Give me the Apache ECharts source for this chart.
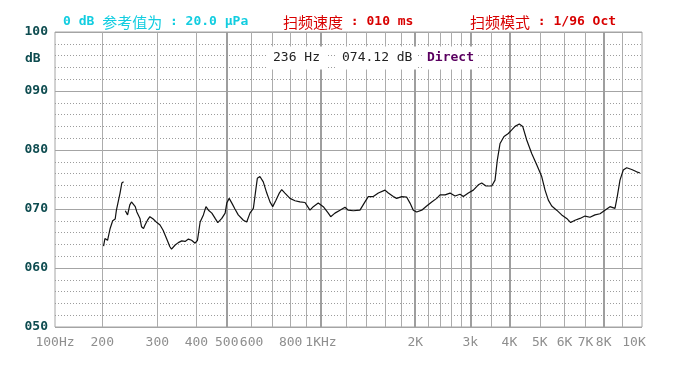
<!DOCTYPE html>
<html>
<head>
<meta charset="utf-8">
<script src="https://cdn.jsdelivr.net/npm/echarts@6/dist/echarts.min.js"></script>
<style>html,body{margin:0;padding:0;background:#fff}#c{width:694px;height:370px}</style>
</head>
<body>
<div id="c"></div>
<script>
// ---- data ----
const xMin = 141.3, xMax = 10607;
const freqHz = [202,204,208,212,216,220,222,225,228,231,234,235.5,
  237,241,245,248,251,255,258,264,267,271,274,279,284,291,299,306,313,321,329,333,342,350,359,368,377,386,396,403,411,421,429,437,448,459,468,482,494,500,509,519,531,544,565,579,593,608,615,626,638,654,671,687,701,718,736,749,767,796,826,857,889,922,945,980,1017,1055,1074,1108,1150,1193,1222,1268,1332,1382,1416,1469,1525,1601,1641,1702,1745,1811,1879,1925,1972,2022,2098,2176,2258,2343,2401,2491,2584,2681,2781,2849,2956,3067,3182,3262,3367,3512,3598,3659,3733,3844,3967,4068,4168,4301,4410,4542,4712,4889,5072,5198,5325,5460,5662,5875,6095,6278,6479,6722,6974,7234,7505,7787,8077,8380,8695,8842,9021,9242,9477,9834,10200,10452];
const levelDb = [63.7,65.0,64.7,66.7,68.0,68.3,69.8,70.0,72.7,74.4,74.6,null,
  69.7,69.0,70.7,71.2,71.4,70.4,69.5,68.4,67.0,66.7,67.3,68.1,68.7,68.3,67.7,67.3,66.4,65.0,63.6,63.2,63.9,64.3,64.6,64.5,64.9,64.7,64.2,64.7,67.8,69.0,70.4,69.8,69.3,68.4,67.7,68.4,69.3,71.0,71.8,71.0,70.0,69.0,68.1,67.8,69.3,70.1,72.1,75.2,75.5,74.6,72.7,71.2,70.4,71.5,72.7,73.3,72.7,71.8,71.4,71.2,71.1,69.8,70.4,71.0,70.4,69.3,68.7,69.3,69.8,70.3,69.8,69.7,69.8,71.2,72.1,72.1,72.7,73.2,72.7,72.1,71.8,72.1,72.0,71.0,69.8,69.5,69.8,70.5,71.2,71.8,72.4,72.4,72.7,72.2,72.5,72.1,72.7,73.2,74.1,74.4,73.9,73.9,74.9,78.3,81.1,82.3,82.8,83.4,84.0,84.4,84.0,81.7,79.4,77.5,75.5,73.2,71.5,70.5,69.8,69.0,68.4,67.7,68.1,68.4,68.8,68.6,69.0,69.2,69.8,70.4,70.1,72.1,74.9,76.6,77.0,76.7,76.3,76.1];
const thinGridHz = [200,300,400,600,700,800,900,1200,1400,1600,1800,2200,2400,2600,2800,3500,5000,6000,7000,9200];
const thickGridHz = [500,1000,2000,3000,4000,8000];
const xTickValues = [xMin,200,300,400,500,600,800,1000,2000,3000,4000,5000,6000,7000,8000,10000];
const xTickLabels = ['100Hz','200','300','400','500','600','800','1KHz','2K','3k','4K','5K','6K','7K','8K','10K'];
const yMin = 50, yMax = 100, yStep = 10;
const cursorHz = '236 Hz', cursorDb = '074.12 dB', cursorMode = 'Direct';

// ---- chart ----
const chart = echarts.init(document.getElementById('c'), null, {renderer: 'canvas'});
const mono = 'DejaVu Sans Mono';
const cjk = 'Noto Sans CJK SC';
const labelMap = {};
xTickValues.forEach((v, i) => { labelMap[Math.round(v)] = xTickLabels[i]; });

const option = {
  animation: false,
  backgroundColor: '#fff',
  grid: {left: 55, right: 52, top: 32, bottom: 43, show: true, borderColor: '#a4a4a4', borderWidth: 1, backgroundColor: 'transparent'},
  xAxis: {
    type: 'log', min: xMin, max: xMax, logBase: 10,
    axisLine: {show: false}, axisTick: {show: false}, splitLine: {show: false},
    axisLabel: {
      customValues: xTickValues,
      formatter: v => labelMap[Math.round(v)] || '',
      color: '#8e8e8e', fontFamily: mono, fontSize: 13, margin: 9,
      showMinLabel: true, showMaxLabel: true
    }
  },
  yAxis: {
    type: 'value', min: yMin, max: yMax, interval: yStep,
    axisLine: {show: false}, axisTick: {show: false},
    axisLabel: {
      formatter: v => String(v).padStart(3, '0'),
      color: '#0e4c50', fontFamily: mono, fontWeight: 'bold', fontSize: 13, margin: 7
    },
    splitLine: {show: true, lineStyle: {color: '#a4a4a4', width: 1, type: 'solid'}},
    minorTick: {show: false, splitNumber: 5},
    minorSplitLine: {show: true, lineStyle: {color: '#9c9c9c', width: 1, type: [1, 2]}}
  },
  series: [
    {
      type: 'line', data: [], z: 1, silent: true,
      markLine: {
        silent: true, symbol: ['none', 'none'], label: {show: false},
        lineStyle: {color: '#acacac', width: 1, type: 'solid'},
        emphasis: {disabled: true},
        data: thinGridHz.map(v => ({xAxis: v}))
          .concat(thickGridHz.map(v => ({xAxis: v, lineStyle: {color: '#9e9e9e', width: 2, type: 'solid'}})))
      }
    },
    {
      type: 'line', z: 5, silent: true,
      data: freqHz.map((f, i) => [f, levelDb[i]]),
      showSymbol: false, connectNulls: false,
      lineStyle: {color: '#111', width: 1.2}
    }
  ],
  graphic: [
    {type: 'text', z: 100, style: {x: 63, y: 22, verticalAlign: 'middle',
      text: '{a|0 dB }{c|参考值为}{a| : 20.0 μPa}',
      rich: {a: {fontFamily: mono, fontWeight: 'bold', fontSize: 13, fill: '#12cde0'},
             c: {fontFamily: cjk, fontSize: 15, fill: '#12cde0'}}}},
    {type: 'text', z: 100, style: {x: 283, y: 22, verticalAlign: 'middle',
      text: '{c|扫频速度}{a| : 010 ms}',
      rich: {a: {fontFamily: mono, fontWeight: 'bold', fontSize: 13, fill: '#d80000'},
             c: {fontFamily: cjk, fontSize: 15, fill: '#d80000'}}}},
    {type: 'text', z: 100, style: {x: 470, y: 22, verticalAlign: 'middle',
      text: '{c|扫频模式}{a| : 1/96 Oct}',
      rich: {a: {fontFamily: mono, fontWeight: 'bold', fontSize: 13, fill: '#d80000'},
             c: {fontFamily: cjk, fontSize: 15, fill: '#d80000'}}}},
    {type: 'text', z: 100, style: {x: 25, y: 59, verticalAlign: 'middle', text: 'dB',
      fontFamily: mono, fontWeight: 'bold', fontSize: 13, fill: '#0e4c50'}},
    {type: 'text', z: 100, style: {x: 267, y: 58, verticalAlign: 'middle', text: cursorHz,
      fontFamily: mono, fontSize: 13, fill: '#222', backgroundColor: '#fff', padding: [5, 6]}},
    {type: 'text', z: 100, style: {x: 337, y: 58, verticalAlign: 'middle', text: cursorDb,
      fontFamily: mono, fontSize: 13, fill: '#222', backgroundColor: '#fff', padding: [5, 5]}},
    {type: 'text', z: 100, style: {x: 423, y: 58, verticalAlign: 'middle', text: cursorMode,
      fontFamily: mono, fontWeight: 'bold', fontSize: 13, fill: '#5a0060', backgroundColor: '#fff', padding: [5, 4]}}
  ]
};
chart.setOption(option);
</script>
</body>
</html>
